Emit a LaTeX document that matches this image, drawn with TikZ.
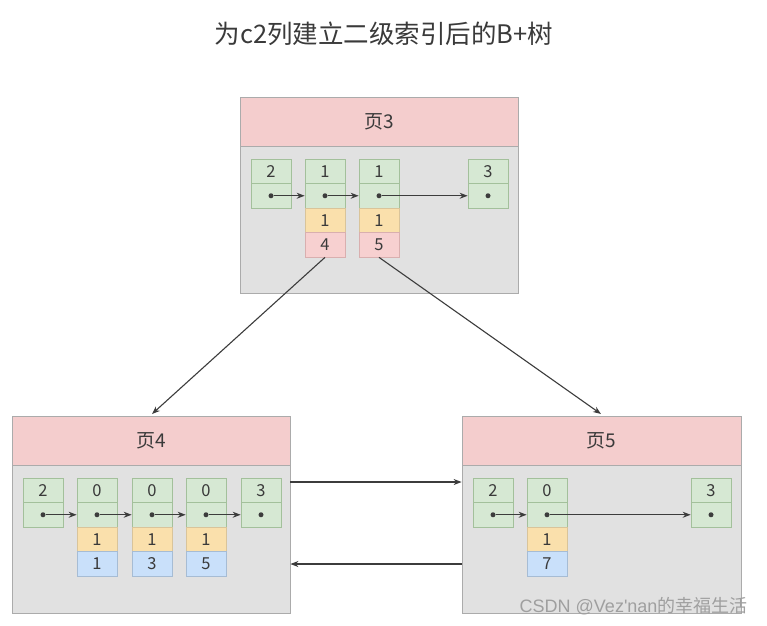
\documentclass[tikz,border=0pt]{standalone}
\usepackage{fontspec}
\setmainfont{Noto Sans CJK SC}
\newfontfamily\latinsans{Liberation Sans}
\usetikzlibrary{arrows.meta}
\definecolor{headpink}{HTML}{F4CDCD}
\definecolor{bodygray}{HTML}{E1E1E1}
\definecolor{pageline}{HTML}{ABABAB}
\definecolor{gfill}{HTML}{D6E8D3}
\definecolor{gline}{HTML}{A3C09B}
\definecolor{yfill}{HTML}{FAE0AC}
\definecolor{yline}{HTML}{D9C49A}
\definecolor{pfill}{HTML}{F7D0D0}
\definecolor{pline}{HTML}{D9AFAF}
\definecolor{bfill}{HTML}{C9E0FA}
\definecolor{bline}{HTML}{A6BCD4}
\definecolor{txt}{HTML}{3A3A3A}
\definecolor{arr}{HTML}{3C3C3C}
\tikzset{
  pagehead/.style={draw=pageline, fill=headpink, line width=0.8pt, minimum height=49pt, inner sep=0pt, font=\fontsize{19}{19}\selectfont, text=txt},
  pagebody/.style={draw=pageline, fill=bodygray, line width=0.8pt, inner sep=0pt},
  cellbase/.style={minimum width=40pt, minimum height=24.5pt, inner sep=0pt, line width=0.7pt, font=\fontsize{16.5}{16.5}\selectfont, text=txt},
  gk/.style={cellbase, draw=gline, fill=gfill},
  yk/.style={cellbase, draw=yline, fill=yfill},
  pk/.style={cellbase, draw=pline, fill=pfill},
  bk/.style={cellbase, draw=bline, fill=bfill},
  link/.style={draw=arr, line width=1.2pt, -{Stealth[length=8pt,width=6pt]}},
  dotm/.style={circle, fill=arr, draw=none, inner sep=0pt, minimum size=5pt},
}
% name, x-left, y-top, key
\newcommand\gcol[4]{%
  \node[gk] (#1k) at (#2+20, #3+12.25) {#4};
  \node[gk] (#1p) at (#2+20, #3+36.75) {};
  \node[dotm] (#1d) at (#1p.center) {};
}
\begin{document}
\begin{tikzpicture}[x=1pt,y=-1pt]
\useasboundingbox (0,0) rectangle (767,625);
\fill[white] (0,0) rectangle (767,625);

\node[font=\fontsize{25.5}{25.5}\selectfont, text=txt] (title) at (384,34) {为c2列建立二级索引后的B+树};

% ---------- page 3 ----------
\node[pagebody, minimum width=278pt, minimum height=147pt] (p3b) at (379,220) {};
\node[pagehead, minimum width=278pt] (p3h) at (379,121.5) {页3};
\gcol{a1}{251}{159}{2}
\gcol{a2}{305}{159}{1}
\gcol{a3}{359}{159}{1}
\gcol{a4}{468}{159}{3}
\node[yk] (a2y) at (325,220.25) {1};
\node[pk] (a2z) at (325,244.75) {4};
\node[yk] (a3y) at (379,220.25) {1};
\node[pk] (a3z) at (379,244.75) {5};
\draw[link] (a1d) -- (a2p.west);
\draw[link] (a2d) -- (a3p.west);
\draw[link] (a3d) -- (a4p.west);

% ---------- page 4 ----------
\node[pagebody, minimum width=278pt, minimum height=148pt] (p4b) at (151,539) {};
\node[pagehead, minimum width=278pt] (p4h) at (151,440.5) {页4};
\gcol{b1}{23}{478}{2}
\gcol{b2}{77}{478}{0}
\gcol{b3}{132}{478}{0}
\gcol{b4}{186}{478}{0}
\gcol{b5}{241}{478}{3}
\node[yk] (b2y) at (97,539.25) {1};
\node[bk] (b2z) at (97,563.75) {1};
\node[yk] (b3y) at (152,539.25) {1};
\node[bk] (b3z) at (152,563.75) {3};
\node[yk] (b4y) at (206,539.25) {1};
\node[bk] (b4z) at (206,563.75) {5};
\draw[link] (b1d) -- (b2p.west);
\draw[link] (b2d) -- (b3p.west);
\draw[link] (b3d) -- (b4p.west);
\draw[link] (b4d) -- (b5p.west);

% ---------- page 5 ----------
\node[pagebody, minimum width=279pt, minimum height=148pt] (p5b) at (601.5,539) {};
\node[pagehead, minimum width=279pt] (p5h) at (601.5,440.5) {页5};
\gcol{c1}{473}{478}{2}
\gcol{c2}{527}{478}{0}
\gcol{c3}{691}{478}{3}
\node[yk] (c2y) at (547,539.25) {1};
\node[bk] (c2z) at (547,563.75) {7};
\draw[link] (c1d) -- (c2p.west);
\draw[link] (c2d) -- (c3p.west);

% ---------- tree links ----------
\coordinate (t4) at (152,414);
\coordinate (t5) at (601,414);
\draw[link, line width=1.1pt] (a2z.south) -- (t4);
\draw[link, line width=1.1pt] (a3z.south) -- (t5);

% ---------- sibling links ----------
\draw[link, line width=1.1pt] (p4b.east |- 0,482) -- (p5b.west |- 0,482);
\draw[link, line width=1.1pt] (p5b.west |- 0,564) -- (p4b.east |- 0,564);

% watermark
\node[anchor=east, font=\fontsize{18}{18}\selectfont, text=gray!75] (wm) at (751,606) {{\latinsans CSDN @Vez'nan}的幸福生活};
\end{tikzpicture}
\end{document}
